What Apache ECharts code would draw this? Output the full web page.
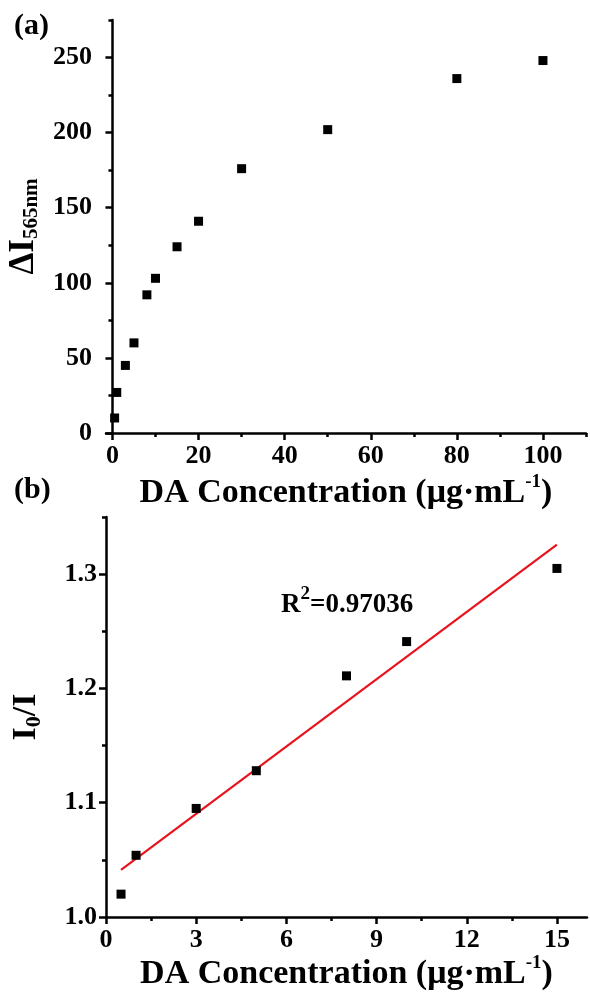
<!DOCTYPE html>
<html>
<head>
<meta charset="utf-8">
<script src="https://cdn.jsdelivr.net/npm/echarts@6/dist/echarts.min.js"></script>
<style>
  html, body { margin: 0; padding: 0; background: #fff; }
  #chart { width: 590px; height: 992px; }
</style>
</head>
<body>
<div id="chart"></div>
<script>
// ---- data (a) ----
const concA = [0.5, 1, 3, 5, 8, 10, 15, 20, 30, 50, 80, 100];
const deltaI = [10, 27, 45, 60, 92, 103, 124, 141, 176, 202, 236, 248];
const ticksXA = [0, 20, 40, 60, 80, 100];
const minorXA = [10, 30, 50, 70, 90, 110];
const ticksYA = [0, 50, 100, 150, 200, 250];
const minorYA = [25, 75, 125, 175, 225, 275];

// ---- data (b) ----
const concB = [0.5, 1, 3, 5, 8, 10, 15];
const ratioB = [1.020, 1.054, 1.095, 1.128, 1.211, 1.241, 1.305];
const ticksXB = [0, 3, 6, 9, 12, 15];
const minorXB = [1.5, 4.5, 7.5, 10.5, 13.5];
const ticksYB = [1.0, 1.1, 1.2, 1.3];
const minorYB = [1.05, 1.15, 1.25, 1.35];
const r2Text = '0.97036';

const FONT = "'Liberation Serif', 'Times New Roman', serif";
const BLACK = '#000';

// least squares fit for the red line
function linFit(xs, ys) {
  const n = xs.length;
  const mx = xs.reduce((a, b) => a + b, 0) / n;
  const my = ys.reduce((a, b) => a + b, 0) / n;
  let sxx = 0, sxy = 0;
  xs.forEach((x, i) => { sxx += (x - mx) * (x - mx); sxy += (x - mx) * (ys[i] - my); });
  const k = sxy / sxx;
  return { k, b: my - k * mx };
}
const fit = linFit(concB, ratioB);
const fitX = [concB[0], concB[concB.length - 1]];
const fitLine = fitX.map(x => [x, fit.k * x + fit.b]);

// ---- axis helpers ----
function mainAxis(gridIndex, min, max, ticks, fmt, margin, extra) {
  return Object.assign({
    type: 'value',
    gridIndex,
    min, max,
    axisLine: { show: true, lineStyle: { color: BLACK, width: 2.5 } },
    axisTick: { show: true, inside: false, length: 7, customValues: ticks, lineStyle: { color: BLACK, width: 2.5 } },
    axisLabel: {
      customValues: ticks,
      formatter: fmt,
      margin,
      color: BLACK, fontFamily: FONT, fontWeight: 'bold', fontSize: 26,
    },
    splitLine: { show: false },
  }, extra);
}

function minorAxis(gridIndex, min, max, ticks, position) {
  return {
    type: 'value',
    gridIndex,
    min, max,
    position,
    axisLine: { show: false },
    axisTick: { show: true, inside: false, length: 4, customValues: ticks, lineStyle: { color: BLACK, width: 2.5 } },
    axisLabel: { show: false },
    splitLine: { show: false },
  };
}

function xName(gap) {
  return {
    name: '{t|DA Concentration (μg·mL}{s|-1}{t|)}',
    nameLocation: 'middle',
    nameGap: gap,
    nameTextStyle: {
      color: BLACK, fontFamily: FONT, fontWeight: 'bold',
      rich: {
        t: { fontSize: 34, lineHeight: 40, fontFamily: FONT, fontWeight: 'bold', color: BLACK },
        s: { fontSize: 19, lineHeight: 20, verticalAlign: 'top', fontFamily: FONT, fontWeight: 'bold', color: BLACK },
      },
    },
  };
}

const chart = echarts.init(document.getElementById('chart'), null, { renderer: 'canvas' });

chart.setOption({
  backgroundColor: '#fff',
  animation: false,
  grid: [
    { left: 106, right: 4, top: 20, height: 413, outerBoundsMode: 'none' },
    { left: 106, right: 3, top: 517, height: 400, outerBoundsMode: 'none' },
  ],
  xAxis: [
    mainAxis(0, -1.5, 110, ticksXA, v => String(v), 10, Object.assign({ position: 'bottom' }, xName(40))),
    minorAxis(0, -1.5, 110, minorXA, 'bottom'),
    mainAxis(1, 0, 16, ticksXB, v => String(v), 10, Object.assign({ position: 'bottom' }, xName(35))),
    minorAxis(1, 0, 16, minorXB, 'bottom'),
  ],
  yAxis: [
    mainAxis(0, 0, 275, ticksYA, v => String(v), 14, {
      position: 'left',
      name: '{b|ΔI}{s|565nm}',
      nameLocation: 'middle',
      nameGap: 61,
      nameTextStyle: {
        color: BLACK, fontFamily: FONT, fontWeight: 'bold',
        rich: {
          b: { fontSize: 35, lineHeight: 36, verticalAlign: 'top', fontFamily: FONT, fontWeight: 'bold', color: BLACK },
          s: { fontSize: 21, lineHeight: 21, verticalAlign: 'bottom', padding: [26, 0, 0, 0], fontFamily: FONT, fontWeight: 'bold', color: BLACK },
        },
      },
    }),
    minorAxis(0, 0, 275, minorYA, 'left'),
    mainAxis(1, 1.0, 1.35, ticksYB, v => v.toFixed(1), 9, {
      position: 'left',
      name: '{b|I}{s|0}{b|/I}',
      nameLocation: 'middle',
      nameGap: 61,
      nameTextStyle: {
        color: BLACK, fontFamily: FONT, fontWeight: 'bold',
        rich: {
          b: { fontSize: 34, lineHeight: 36, verticalAlign: 'top', fontFamily: FONT, fontWeight: 'bold', color: BLACK },
          s: { fontSize: 22, lineHeight: 22, verticalAlign: 'bottom', padding: [9, 0, 0, 0], fontFamily: FONT, fontWeight: 'bold', color: BLACK },
        },
      },
    }),
    minorAxis(1, 1.0, 1.35, minorYB, 'left'),
  ],
  series: [
    {
      type: 'scatter',
      xAxisIndex: 0, yAxisIndex: 0,
      symbol: 'rect', symbolSize: 9,
      itemStyle: { color: BLACK, opacity: 1 },
      data: concA.map((x, i) => [x, deltaI[i]]),
    },
    {
      type: 'line',
      xAxisIndex: 2, yAxisIndex: 2,
      symbol: 'none',
      lineStyle: { color: '#e8141c', width: 2.2 },
      data: fitLine,
      z: 1,
    },
    {
      type: 'scatter',
      xAxisIndex: 2, yAxisIndex: 2,
      symbol: 'rect', symbolSize: 9,
      itemStyle: { color: BLACK, opacity: 1 },
      data: concB.map((x, i) => [x, ratioB[i]]),
      z: 3,
    },
  ],
  graphic: [
    { type: 'text', left: 14, top: 11, style: { text: '(a)', font: `bold 30px ${FONT}`, fill: BLACK } },
    { type: 'text', left: 14, top: 475, style: { text: '(b)', font: `bold 30px ${FONT}`, fill: BLACK } },
    {
      type: 'text', left: 281, top: 585,
      style: {
        text: '{r|R}{s|2}{r|=' + r2Text + '}',
        rich: {
          r: { fontSize: 27, lineHeight: 34, fontFamily: FONT, fontWeight: 'bold', fill: BLACK, verticalAlign: 'bottom' },
          s: { fontSize: 19, lineHeight: 20, fontFamily: FONT, fontWeight: 'bold', fill: BLACK, verticalAlign: 'top' },
        },
      },
    },
  ],
});
</script>
</body>
</html>
